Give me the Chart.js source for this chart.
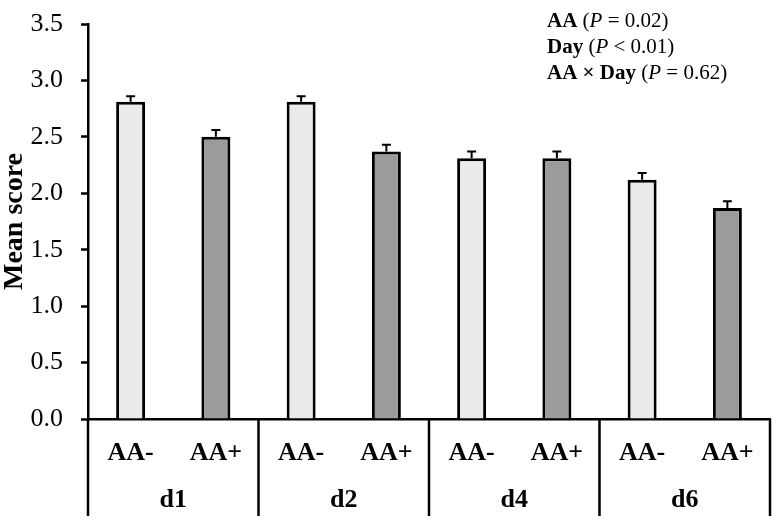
<!DOCTYPE html>
<html>
<head>
<meta charset="utf-8">
<script src="https://cdn.jsdelivr.net/npm/chart.js@4.4.0/dist/chart.umd.min.js"></script>
<style>
  html, body { margin: 0; padding: 0; background: #ffffff; }
  #wrap { width: 776px; height: 529px; }
</style>
</head>
<body>
<div id="wrap"><canvas id="scoreChart" width="776" height="529"></canvas></div>
<script>
// data
const days = ['d1', 'd2', 'd4', 'd6'];
const treatments = ['AA-', 'AA+'];
const meanScores = [2.81, 2.50, 2.81, 2.37, 2.31, 2.31, 2.12, 1.87];
const errors = [0.05, 0.06, 0.05, 0.06, 0.06, 0.06, 0.06, 0.06];
const statTerms = ['AA', 'Day', 'AA \u00d7 Day'];
const statTests = ['= 0.02', '< 0.01', '= 0.62'];

const serif = "'Liberation Serif', 'Times New Roman', serif";

const labels = [];
days.forEach(d => treatments.forEach(t => labels.push(t)));

const barColors = labels.map(t => t === 'AA-' ? '#ebebeb' : '#9b9b9b');

// upward error bars with a small cap
const errorBars = {
    id: 'errorBars',
    afterDatasetsDraw(chart) {
        const ctx = chart.ctx;
        const y = chart.scales.y;
        chart.getDatasetMeta(0).data.forEach((bar, i) => {
            const top = y.getPixelForValue(meanScores[i] + errors[i]);
            ctx.save();
            ctx.strokeStyle = '#000';
            ctx.lineWidth = 2;
            ctx.beginPath();
            ctx.moveTo(bar.x, bar.y);
            ctx.lineTo(bar.x, top);
            ctx.moveTo(bar.x - 4.5, top);
            ctx.lineTo(bar.x + 4.5, top);
            ctx.stroke();
            ctx.restore();
        });
    }
};

// day group labels + separators under the axis
const dayGroups = {
    id: 'dayGroups',
    afterDraw(chart) {
        const ctx = chart.ctx;
        const x = chart.scales.x;
        const bottom = chart.chartArea.bottom;
        const edges = [x.left];
        for (let k = 1; k < days.length; k++) {
            edges.push((x.getPixelForValue(2 * k - 1) + x.getPixelForValue(2 * k)) / 2);
        }
        edges.push(x.right);

        ctx.save();
        ctx.strokeStyle = '#000';
        ctx.lineWidth = 2.5;
        edges.forEach(e => {
            ctx.beginPath();
            ctx.moveTo(e, bottom);
            ctx.lineTo(e, 516);
            ctx.stroke();
        });

        ctx.fillStyle = '#000';
        ctx.font = 'bold 26px ' + serif;
        ctx.textAlign = 'center';
        ctx.textBaseline = 'middle';
        days.forEach((d, k) => {
            const mid = (x.getPixelForValue(2 * k) + x.getPixelForValue(2 * k + 1)) / 2;
            ctx.fillText(d, mid, 500);
        });
        ctx.restore();
    }
};

// statistics note in the top right corner
const statNote = {
    id: 'statNote',
    afterDraw(chart) {
        const ctx = chart.ctx;
        ctx.save();
        ctx.fillStyle = '#000';
        ctx.textBaseline = 'alphabetic';
        ctx.textAlign = 'left';
        statTerms.forEach((term, i) => {
            const parts = [
                [term, 'bold 21px '],
                [' (', '21px '],
                ['P', 'italic 21px '],
                [' ' + statTests[i] + ')', '21px ']
            ];
            let px = 547;
            const py = 27 + i * 26;
            parts.forEach(p => {
                ctx.font = p[1] + serif;
                ctx.fillText(p[0], px, py);
                px += ctx.measureText(p[0]).width;
            });
        });
        ctx.restore();
    }
};

const ctx = document.getElementById('scoreChart').getContext('2d');
new Chart(ctx, {
    type: 'bar',
    data: {
        labels: labels,
        datasets: [
            {
                data: meanScores,
                backgroundColor: barColors,
                borderColor: '#000',
                borderWidth: 3,
                barPercentage: 0.34,
                categoryPercentage: 1.0,
            }
        ],
    },
    plugins: [errorBars, dayGroups, statNote],
    options: {
        responsive: false,
        animation: false,
        layout: { padding: { top: 0, right: 6, left: 0, bottom: 0 } },
        plugins: {
            legend: { display: false },
            tooltip: { enabled: false },
        },
        scales: {
            x: {
                afterFit: scale => { scale.height = 110; },
                grid: { display: true, drawOnChartArea: false, drawTicks: false },
                border: { display: true, color: '#000', width: 2.5 },
                ticks: {
                    color: '#000',
                    padding: 19,
                    font: { family: serif, size: 26, weight: 'bold' },
                },
            },
            y: {
                min: 0,
                max: 3.5,
                afterFit: scale => {
                    scale.width = 88;
                    scale.paddingTop = 24;
                    scale.paddingBottom = 0;
                },
                grid: { display: true, drawOnChartArea: false, drawTicks: true, tickLength: 7, tickColor: '#000', tickWidth: 2.5 },
                border: { display: true, color: '#000', width: 2.5 },
                ticks: {
                    stepSize: 0.5,
                    color: '#000',
                    padding: 18,
                    font: { family: serif, size: 26 },
                    callback: v => v.toFixed(1),
                },
                title: {
                    display: true,
                    text: 'Mean score',
                    color: '#000',
                    padding: { top: -2, bottom: 0 },
                    font: { family: serif, size: 28, weight: 'bold' },
                },
            },
        },
    },
});
</script>
</body>
</html>
